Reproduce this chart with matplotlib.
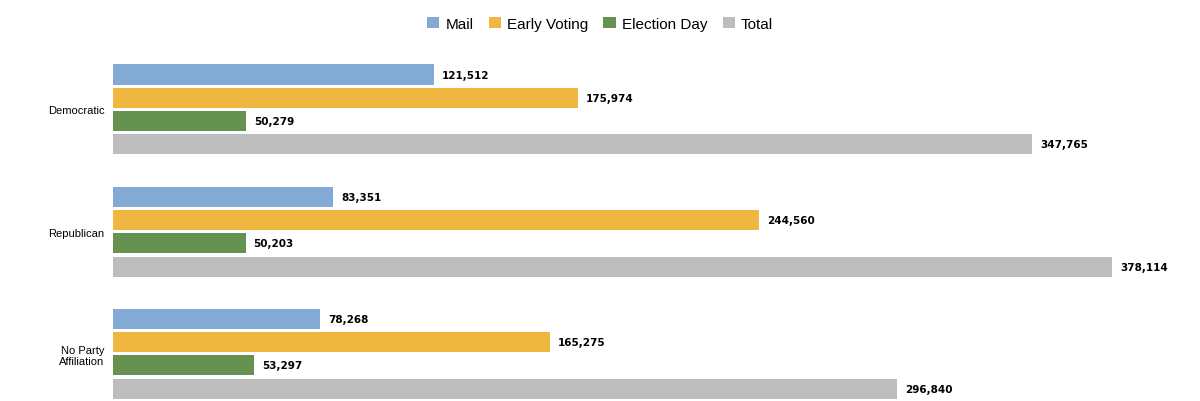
import matplotlib
matplotlib.use("Agg")
import matplotlib.pyplot as plt
import numpy as np

categories = ["Democratic", "Republican", "No Party\nAffiliation"]
series = ["Mail", "Early Voting", "Election Day", "Total"]
mail = [121512, 83351, 78268]
early = [175974, 244560, 165275]
eday = [50279, 50203, 53297]
total = [347765, 378114, 296840]
colors = ["#82aad4", "#efb740", "#659251", "#bdbdbd"]

plt.rcParams['font.family'] = ['Liberation Sans', 'DejaVu Sans']
fig = plt.figure(figsize=(12, 4.02), dpi=100)
ax = fig.add_axes([113/1200, 0, (1170-113)/1200, (402-52)/402])
data = [mail, early, eday, total]
offs = np.array([-1.5, -0.5, 0.5, 1.5]) * 0.191
y = np.arange(len(categories))
for k, (vals, name) in enumerate(zip(data, series)):
    bars = ax.barh(y + offs[k], vals, height=0.164, color=colors[k], label=name)
    for b, v in zip(bars, vals):
        ax.text(v + 3000, b.get_y() + b.get_height()/2, f"{v:,}", va="center",
                ha="left", fontsize=7.5, fontweight="bold", family=['DejaVu Sans'])
ax.set_xlim(0, 400000)
ax.set_ylim(2.388, -0.479)
ax.set_yticks(y)
ax.set_yticklabels(categories, fontsize=8)
ax.set_xticks([])
ax.tick_params(axis='y', length=0, pad=6)
for s in ax.spines.values():
    s.set_visible(False)
fig.legend(loc="upper center", bbox_to_anchor=(0.5, 0.99), ncol=4, frameon=False,
           fontsize=11, handlelength=0.8, handleheight=0.8, columnspacing=1.0, handletextpad=0.4)
fig.savefig("out.png")
